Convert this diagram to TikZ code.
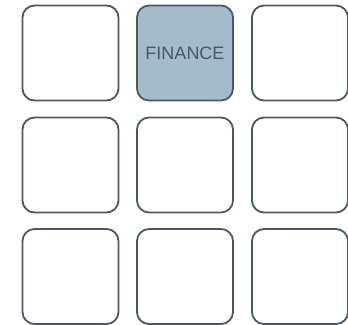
\documentclass[tikz,border=0pt]{standalone}
\usepackage{fontspec}
\setmainfont{Liberation Sans}
\definecolor{edgegrey}{HTML}{4B5863}
\definecolor{finblue}{HTML}{A3BCCC}
\tikzset{
  cell/.style={draw=edgegrey,line width=1.8bp,rounded corners=12bp,
    minimum width=96bp,minimum height=95bp,inner sep=0pt,fill=white},
}
\begin{document}
\begin{tikzpicture}[x=1bp,y=-1bp]
\useasboundingbox (0,0) rectangle (348,325);
\node[cell] (topleft) at (70.5,53) {};
\node[cell,fill=finblue,text=edgegrey,font=\fontsize{18bp}{20bp}\selectfont] (finance) at (185,53) {FINANCE};
\node[cell] (topright) at (300,53) {};
\node[cell] (midleft) at (70.5,165) {};
\node[cell] (midmid) at (185,165) {};
\node[cell] (midright) at (300,165) {};
\node[cell] (botleft) at (70.5,276.5) {};
\node[cell] (botmid) at (185,276.5) {};
\node[cell] (botright) at (300,276.5) {};
\end{tikzpicture}
\end{document}
